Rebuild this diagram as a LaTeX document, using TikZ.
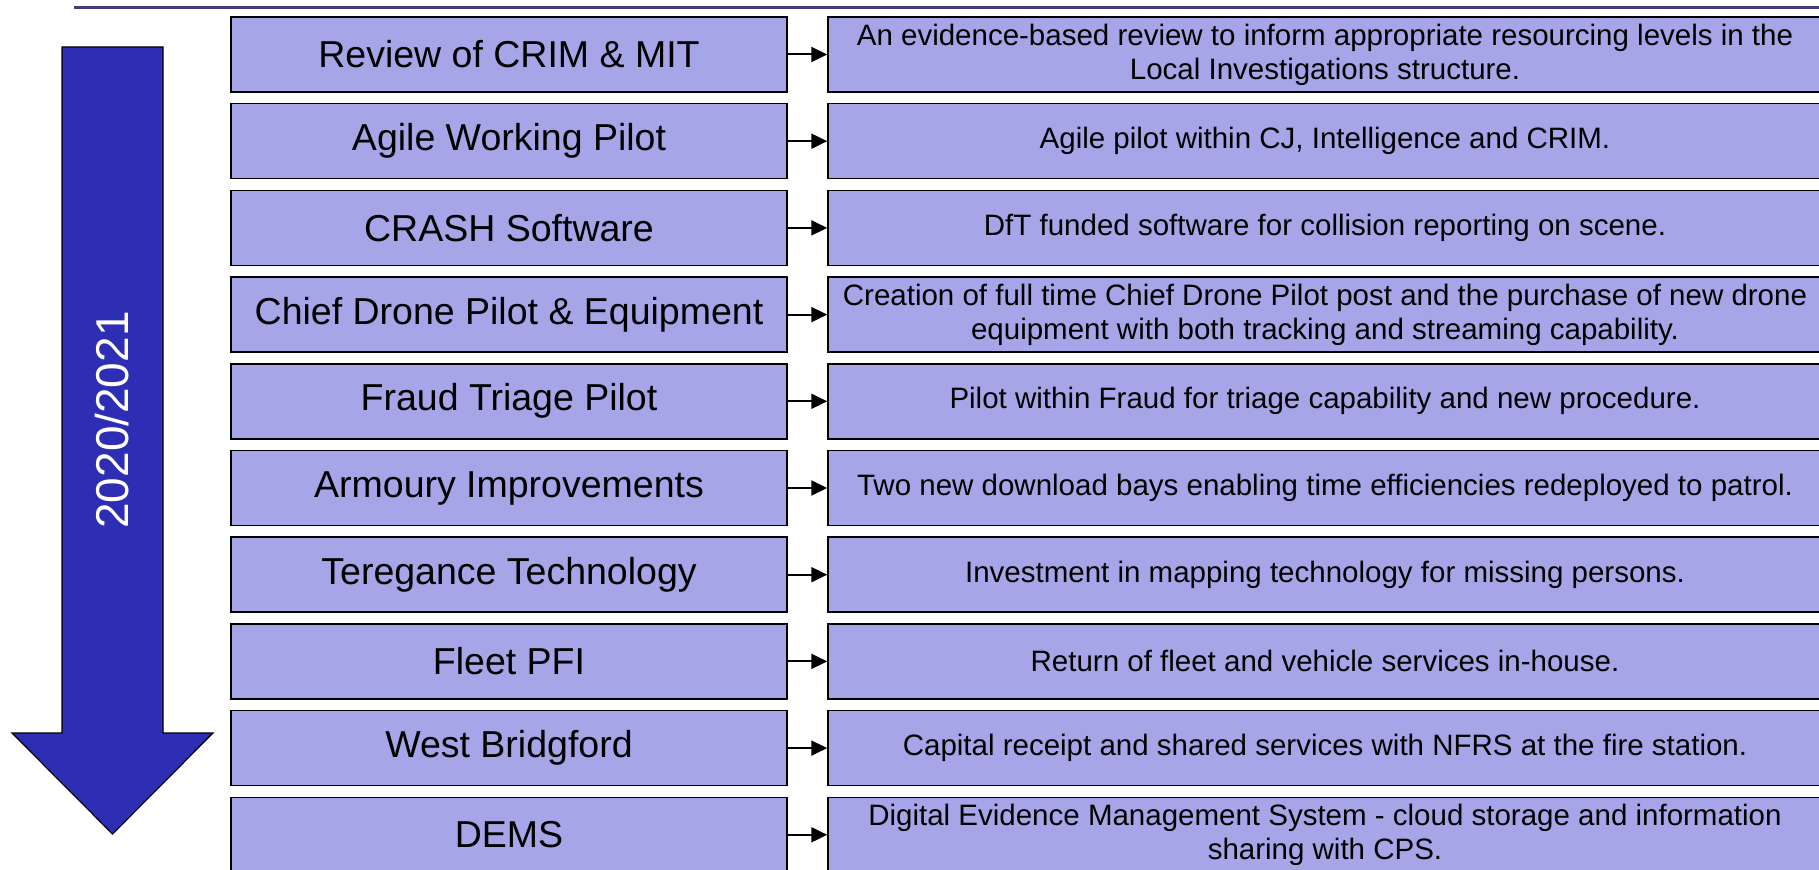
\documentclass[tikz,border=0pt]{standalone}
\usepackage{fontspec}
\setmainfont{Liberation Sans}
\usetikzlibrary{positioning,arrows.meta}
\definecolor{arrowblue}{RGB}{46,46,180}
\definecolor{boxlilac}{RGB}{165,165,232}
\definecolor{rulepurple}{RGB}{70,60,120}

\begin{document}
\begin{tikzpicture}[
    x=0.5pt, y=-0.5pt,
    node distance=5.1pt and 19.75pt,
    box/.style={rectangle, draw, line width=0.75pt, fill=boxlilac, minimum height=37.5pt, align=center, inner sep=2pt},
    project/.style={box, minimum width=278pt, font=\fontsize{18.75}{22}\selectfont},
    outcome/.style={box, minimum width=497pt, font=\fontsize{14.75}{17}\selectfont},
    link/.style={-{Triangle[length=8pt,width=7.5pt]}, line width=1pt}
]
    \useasboundingbox (0,0) rectangle (1819,870);

    % Header rule
    \coordinate (rulestart) at (74,7.5);
    \coordinate (ruleend) at (1819,7.5);
    \draw[rulepurple, line width=1.2pt] (rulestart) -- (ruleend);

    % Timeline arrow
    \draw[fill=arrowblue, line width=0.6pt] (62,47) -- (163,47) -- (163,733) -- (213,733)
        -- (112.5,834) -- (12,733) -- (62,733) -- cycle;
    \node[rotate=90, text=white, font=\fontsize{23}{27}\selectfont] (year) at (112.5,420) {2020/2021};

    % Projects
    \node[project] (crim) at (509,54.5) {Review of CRIM \& MIT};
    \node[project, below=of crim] (agile) {Agile Working Pilot};
    \node[project, below=of agile] (crash) {CRASH Software};
    \node[project, below=of crash] (drone) {Chief Drone Pilot \& Equipment};
    \node[project, below=of drone] (fraud) {Fraud Triage Pilot};
    \node[project, below=of fraud] (armoury) {Armoury Improvements};
    \node[project, below=of armoury] (teregance) {Teregance Technology};
    \node[project, below=of teregance] (fleet) {Fleet PFI};
    \node[project, below=of fleet] (bridgford) {West Bridgford};
    \node[project, below=of bridgford] (dems) {DEMS};

    % Outcomes
    \node[outcome, right=of crim] (crimout) {An evidence-based review to inform appropriate resourcing levels in the\\Local Investigations structure.};
    \node[outcome, right=of agile] (agileout) {Agile pilot within CJ, Intelligence and CRIM.};
    \node[outcome, right=of crash] (crashout) {DfT funded software for collision reporting on scene.};
    \node[outcome, right=of drone] (droneout) {Creation of full time Chief Drone Pilot post and the purchase of new drone\\equipment with both tracking and streaming capability.};
    \node[outcome, right=of fraud] (fraudout) {Pilot within Fraud for triage capability and new procedure.};
    \node[outcome, right=of armoury] (armouryout) {Two new download bays enabling time efficiencies redeployed to patrol.};
    \node[outcome, right=of teregance] (tereganceout) {Investment in mapping technology for missing persons.};
    \node[outcome, right=of fleet] (fleetout) {Return of fleet and vehicle services in-house.};
    \node[outcome, right=of bridgford] (bridgfordout) {Capital receipt and shared services with NFRS at the fire station.};
    \node[outcome, right=of dems] (demsout) {Digital Evidence Management System - cloud storage and information\\sharing with CPS.};

    % Arrows
    \draw[link] (crim) -- (crimout);
    \draw[link] (agile) -- (agileout);
    \draw[link] (crash) -- (crashout);
    \draw[link] (drone) -- (droneout);
    \draw[link] (fraud) -- (fraudout);
    \draw[link] (armoury) -- (armouryout);
    \draw[link] (teregance) -- (tereganceout);
    \draw[link] (fleet) -- (fleetout);
    \draw[link] (bridgford) -- (bridgfordout);
    \draw[link] (dems) -- (demsout);
\end{tikzpicture}
\end{document}
